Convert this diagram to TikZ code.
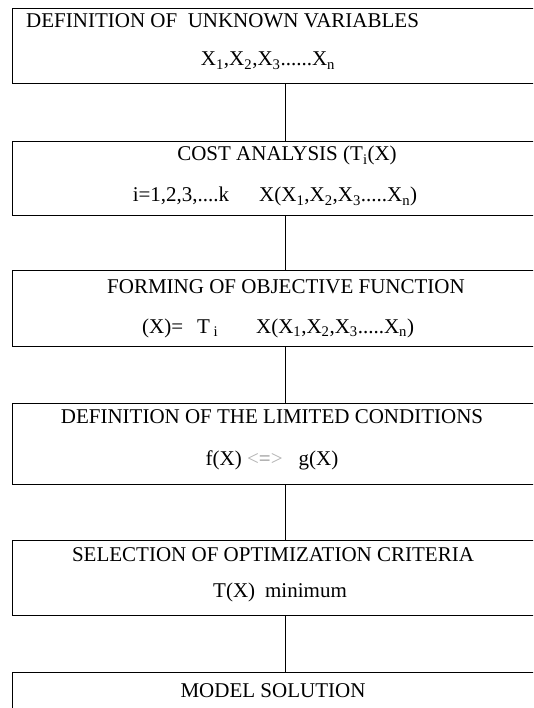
\documentclass[tikz,border=0pt]{standalone}
\usepackage{fontspec}
\setmainfont{Liberation Serif}
\usetikzlibrary{positioning}

\begin{document}
\begin{tikzpicture}[x=1pt,y=-1pt,box/.style={draw,line width=.9pt,minimum width=528pt,inner sep=0pt,anchor=north west},txt/.style={inner sep=0pt,anchor=base,font=\fontsize{21}{25}\selectfont}]
  \useasboundingbox (0,0) rectangle (533,708);
  \clip (0,0) rectangle (533,708);
  \coordinate (cx) at (285,0);
  % boxes
  \node[box,minimum height=75pt] (b1) at (12,8) {};
  \node[box,minimum height=74pt] (b2) at (12,141) {};
  \node[box,minimum height=76pt] (b3) at (12,270) {};
  \node[box,minimum height=81pt] (b4) at (12,403) {};
  \node[box,minimum height=75pt] (b5) at (12,540) {};
  \node[box,minimum height=80pt] (b6) at (12,672) {};
  % texts
  \node[txt,anchor=base west] (t1) at (26,28) {DEFINITION OF \ UNKNOWN VARIABLES};
  \node[txt] (l1) at (268,66) {X\textsubscript{1},X\textsubscript{2},X\textsubscript{3}......X\textsubscript{n}};
  \node[txt] (t2) at (287,161) {COST ANALYSIS (T\textsubscript{i}(X)};
  \node[txt] (l2) at (275,202) {i=1,2,3,....k\hspace{30pt}X(X\textsubscript{1},X\textsubscript{2},X\textsubscript{3}.....X\textsubscript{n})};
  \node[txt] (t3) at (286,293) {FORMING OF OBJECTIVE FUNCTION};
  \node[txt,anchor=base west] (l3) at (142,333) {(X)=\hspace{14pt}T\,\textsubscript{i}\hspace{38pt}X(X\textsubscript{1},X\textsubscript{2},X\textsubscript{3}.....X\textsubscript{n})};
  \node[txt] (t4) at (272,423) {DEFINITION OF THE LIMITED CONDITIONS};
  \node[txt] (l4) at (272,465) {f(X) {\color{gray!60}<}\textcolor{gray!90}{=}{\color{gray!60}>}\hspace{16pt}g(X)};
  \node[txt] (t5) at (273,561) {SELECTION OF OPTIMIZATION CRITERIA};
  \node[txt] (l5) at (280,597) {T(X)\hspace{10pt}minimum};
  \node[txt] (t6) at (273,697) {MODEL SOLUTION};
  % links
  \draw[line width=.9pt] (b1.south -| cx) -- (b2.north -| cx);
  \draw[line width=.9pt] (b2.south -| cx) -- (b3.north -| cx);
  \draw[line width=.9pt] (b3.south -| cx) -- (b4.north -| cx);
  \draw[line width=.9pt] (b4.south -| cx) -- (b5.north -| cx);
  \draw[line width=.9pt] (b5.south -| cx) -- (b6.north -| cx);
\end{tikzpicture}
\end{document}
